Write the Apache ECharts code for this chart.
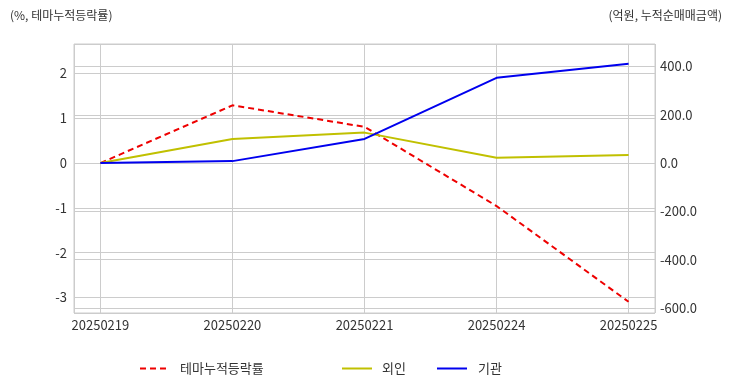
<!DOCTYPE html>
<html>
<head>
<meta charset="utf-8">
<script src="https://cdn.jsdelivr.net/npm/echarts@6/dist/echarts.min.js"></script>
<style>html,body{margin:0;padding:0;background:#fff;}#c{width:732px;height:392px;}</style>
</head>
<body>
<div id="c"></div>
<script>
const dates = ['20250219', '20250220', '20250221', '20250224', '20250225'];
const themeRate = [0, 1.29, 0.81, -0.96, -3.10];
const foreign = [0, 100, 126, 22, 33];
const institution = [0, 8, 100, 353, 411];
const leftTicks = [-3, -2, -1, 0, 1, 2];
const rightTicks = [-600, -400, -200, 0, 200, 400];

const FONT = '"Noto Sans CJK KR", "Noto Sans", sans-serif';
const chart = echarts.init(document.getElementById('c'), null, {renderer: 'canvas'});
const pts = arr => arr.map((v, i) => [i, v]);
const isInt = v => Math.abs(v - Math.round(v)) < 1e-6;
const legendCommon = {top: 362, padding: 0, itemHeight: 14, itemStyle: {opacity: 0, borderWidth: 0}};

chart.setOption({
  animation: false,
  backgroundColor: '#fff',
  textStyle: {fontFamily: FONT},
  title: [
    {text: '(%, 테마누적등락률)', left: 10, top: 9, padding: 0, textStyle: {fontSize: 12, fontWeight: 'normal', color: '#333', fontFamily: FONT}},
    {text: '(억원, 누적순매매금액)', right: 10, top: 9, padding: 0, textStyle: {fontSize: 12, fontWeight: 'normal', color: '#333', fontFamily: FONT}}
  ],
  grid: {left: 74, right: 77, top: 44, bottom: 79, show: true, borderColor: '#cccccc', borderWidth: 1},
  legend: [
    Object.assign({data: ['테마누적등락률'], left: 139, itemWidth: 28, textStyle: {fontSize: 13, color: '#333', padding: [0, 0, 0, 7], fontFamily: FONT}}, legendCommon),
    Object.assign({data: ['외인'], left: 341, itemWidth: 30, textStyle: {fontSize: 13, color: '#333', padding: [0, 0, 0, 5], fontFamily: FONT}}, legendCommon),
    Object.assign({data: ['기관'], left: 436, itemWidth: 30, textStyle: {fontSize: 13, color: '#333', padding: [0, 0, 0, 6], fontFamily: FONT}}, legendCommon)
  ],
  xAxis: {
    type: 'value', min: -0.2, max: 4.2, splitNumber: 4,
    axisLine: {show: false}, axisTick: {show: false},
    axisLabel: {fontSize: 13, color: '#333', margin: 6, showMinLabel: true, showMaxLabel: true,
      formatter: v => isInt(v) && dates[Math.round(v)] ? dates[Math.round(v)] : ''},
    splitLine: {show: true, lineStyle: {color: '#cccccc', width: 1}}
  },
  yAxis: [
    {type: 'value', position: 'left', min: -3.35, max: 2.66, splitNumber: 6,
      axisLine: {show: false}, axisTick: {show: false},
      axisLabel: {fontSize: 13, color: '#333', margin: 7,
        formatter: v => leftTicks.some(t => Math.abs(t - v) < 1e-6) ? String(Math.round(v)) : ''},
      splitLine: {show: true, lineStyle: {color: '#cccccc', width: 1}}},
    {type: 'value', position: 'right', min: -621, max: 493, splitNumber: 5,
      axisLine: {show: false}, axisTick: {show: false},
      axisLabel: {fontSize: 13, color: '#333', margin: 5,
        formatter: v => rightTicks.some(t => Math.abs(t - v) < 1e-6) ? v.toFixed(1) : ''},
      splitLine: {show: true, lineStyle: {color: '#cccccc', width: 1}}}
  ],
  series: [
    {name: '테마누적등락률', type: 'line', yAxisIndex: 0, data: pts(themeRate), symbol: 'none',
      lineStyle: {color: '#ee0000', width: 2, type: [6, 4]}, itemStyle: {color: '#ee0000'}},
    {name: '외인', type: 'line', yAxisIndex: 1, data: pts(foreign), symbol: 'none',
      lineStyle: {color: '#c0c000', width: 2}, itemStyle: {color: '#c0c000'}},
    {name: '기관', type: 'line', yAxisIndex: 1, data: pts(institution), symbol: 'none',
      lineStyle: {color: '#0000ee', width: 2}, itemStyle: {color: '#0000ee'}}
  ]
});
</script>
</body>
</html>
